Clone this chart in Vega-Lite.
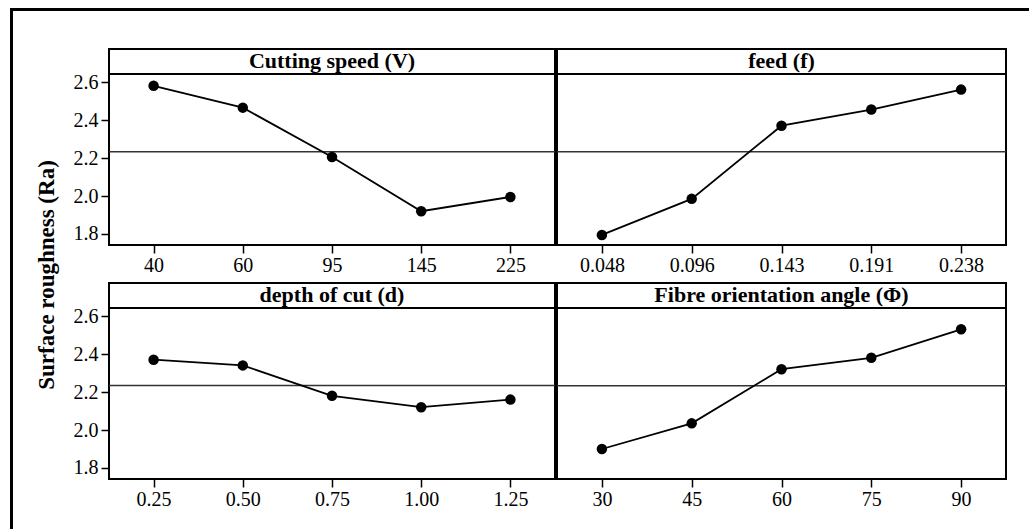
{
  "$schema": "https://vega.github.io/schema/vega-lite/v6.json",
  "padding": {"left": 10, "top": 8, "right": 0, "bottom": 0},
  "background": "white",
  "datasets": {
    "none": [],
    "main": [
      {"factor": "Cutting speed (V)", "level": "40", "ra": 2.58},
      {"factor": "Cutting speed (V)", "level": "60", "ra": 2.465},
      {"factor": "Cutting speed (V)", "level": "95", "ra": 2.205},
      {"factor": "Cutting speed (V)", "level": "145", "ra": 1.92},
      {"factor": "Cutting speed (V)", "level": "225", "ra": 1.995},
      {"factor": "feed (f)", "level": "0.048", "ra": 1.795},
      {"factor": "feed (f)", "level": "0.096", "ra": 1.985},
      {"factor": "feed (f)", "level": "0.143", "ra": 2.37},
      {"factor": "feed (f)", "level": "0.191", "ra": 2.455},
      {"factor": "feed (f)", "level": "0.238", "ra": 2.56},
      {"factor": "depth of cut (d)", "level": "0.25", "ra": 2.37},
      {"factor": "depth of cut (d)", "level": "0.50", "ra": 2.34},
      {"factor": "depth of cut (d)", "level": "0.75", "ra": 2.18},
      {"factor": "depth of cut (d)", "level": "1.00", "ra": 2.12},
      {"factor": "depth of cut (d)", "level": "1.25", "ra": 2.16},
      {"factor": "Fibre orientation angle (Φ)", "level": "30", "ra": 1.9},
      {"factor": "Fibre orientation angle (Φ)", "level": "45", "ra": 2.035},
      {"factor": "Fibre orientation angle (Φ)", "level": "60", "ra": 2.32},
      {"factor": "Fibre orientation angle (Φ)", "level": "75", "ra": 2.38},
      {"factor": "Fibre orientation angle (Φ)", "level": "90", "ra": 2.53}
    ]
  },
  "spacing": 0,
  "vconcat": [
    {
      "width": 1018, "height": 1,
      "data": {"name": "none"},
      "mark": "point",
      "encoding": {},
      "view": {"stroke": "black", "strokeWidth": 2}
    },
    {
      "spacing": 22,
      "hconcat": [
        {
          "width": 1, "height": 516,
          "data": {"name": "none"},
          "mark": "point",
          "encoding": {},
          "view": {"stroke": "black", "strokeWidth": 2}
        },
        {
          "spacing": 0,
          "vconcat": [
            {
              "width": 1, "height": 36,
              "data": {"name": "none"},
              "mark": "point",
              "encoding": {},
              "view": {"stroke": null}
            },
            {
              "title": {"text": "Surface roughness (Ra)", "orient": "left", "anchor": "middle", "fontSize": 23, "fontWeight": "bold", "font": "Liberation Serif", "color": "black", "offset": 13, "dx": 4},
              "spacing": 6,
              "vconcat": [
                {
                  "spacing": -5,
                  "hconcat": [
                    {
                      "width": 446, "height": 196,
                      "data": {"name": "main"},
                      "transform": [{"filter": "datum.factor === 'Cutting speed (V)'"}],
                      "layer": [
                        {"mark": {"type": "rule", "color": "#333333", "strokeWidth": 1.5},
                         "encoding": {"y": {"aggregate": "mean", "field": "ra", "type": "quantitative", "scale": {"domain": [1.7421, 2.7737], "nice": false, "zero": false}, "axis": {"title": null, "values": [1.8, 2.0, 2.2, 2.4, 2.6], "format": ".1f"}}}},
                        {"mark": {"type": "rule", "color": "black", "strokeWidth": 2},
                         "encoding": {"y": {"datum": 2.642, "type": "quantitative", "axis": {"title": null, "values": [1.8, 2.0, 2.2, 2.4, 2.6], "format": ".1f"}}}},
                        {"mark": {"type": "line", "color": "black", "strokeWidth": 1.8},
                         "encoding": {
                           "x": {"field": "level", "type": "nominal", "scale": {"type": "point", "domain": ["40", "60", "95", "145", "225"], "padding": 0.5}, "axis": {"title": null, "labelAngle": 0}},
                           "y": {"field": "ra", "type": "quantitative", "axis": {"title": null, "values": [1.8, 2.0, 2.2, 2.4, 2.6], "format": ".1f"}},
                           "order": {"value": null}}},
                        {"mark": {"type": "circle", "color": "black", "size": 110, "opacity": 1},
                         "encoding": {
                           "x": {"field": "level", "type": "nominal", "axis": {"title": null, "labelAngle": 0}},
                           "y": {"field": "ra", "type": "quantitative", "axis": {"title": null, "values": [1.8, 2.0, 2.2, 2.4, 2.6], "format": ".1f"}}}},
                        {"transform": [{"aggregate": [{"op": "count", "as": "n"}], "groupby": ["factor"]}],
                         "mark": {"type": "text", "fontSize": 22, "fontWeight": "bold", "font": "Liberation Serif", "baseline": "middle", "align": "center", "color": "black"},
                         "encoding": {
                           "x": {"datum": "95", "type": "nominal", "axis": {"title": null, "labelAngle": 0}},
                           "y": {"datum": 2.708, "type": "quantitative", "axis": {"title": null, "values": [1.8, 2.0, 2.2, 2.4, 2.6], "format": ".1f"}},
                           "text": {"field": "factor"}}}
                      ]
                    },
                    {
                      "width": 449, "height": 196,
                      "data": {"name": "main"},
                      "transform": [{"filter": "datum.factor === 'feed (f)'"}],
                      "layer": [
                        {"mark": {"type": "rule", "color": "#333333", "strokeWidth": 1.5},
                         "encoding": {"y": {"aggregate": "mean", "field": "ra", "type": "quantitative", "scale": {"domain": [1.7421, 2.7737], "nice": false, "zero": false}, "axis": null}}},
                        {"mark": {"type": "rule", "color": "black", "strokeWidth": 2},
                         "encoding": {"y": {"datum": 2.642, "type": "quantitative", "axis": null}}},
                        {"mark": {"type": "line", "color": "black", "strokeWidth": 1.8},
                         "encoding": {
                           "x": {"field": "level", "type": "nominal", "scale": {"type": "point", "domain": ["0.048", "0.096", "0.143", "0.191", "0.238"], "padding": 0.5}, "axis": {"title": null, "labelAngle": 0}},
                           "y": {"field": "ra", "type": "quantitative", "axis": null},
                           "order": {"value": null}}},
                        {"mark": {"type": "circle", "color": "black", "size": 110, "opacity": 1},
                         "encoding": {
                           "x": {"field": "level", "type": "nominal", "axis": {"title": null, "labelAngle": 0}},
                           "y": {"field": "ra", "type": "quantitative", "axis": null}}},
                        {"transform": [{"aggregate": [{"op": "count", "as": "n"}], "groupby": ["factor"]}],
                         "mark": {"type": "text", "fontSize": 22, "fontWeight": "bold", "font": "Liberation Serif", "baseline": "middle", "align": "center", "color": "black"},
                         "encoding": {
                           "x": {"datum": "0.143", "type": "nominal", "axis": {"title": null, "labelAngle": 0}},
                           "y": {"datum": 2.708, "type": "quantitative", "axis": null},
                           "text": {"field": "factor"}}}
                      ]
                    }
                  ]
                },
                {
                  "spacing": -5,
                  "hconcat": [
                    {
                      "width": 446, "height": 196,
                      "data": {"name": "main"},
                      "transform": [{"filter": "datum.factor === 'depth of cut (d)'"}],
                      "layer": [
                        {"mark": {"type": "rule", "color": "#333333", "strokeWidth": 1.5},
                         "encoding": {"y": {"aggregate": "mean", "field": "ra", "type": "quantitative", "scale": {"domain": [1.7421, 2.7737], "nice": false, "zero": false}, "axis": {"title": null, "values": [1.8, 2.0, 2.2, 2.4, 2.6], "format": ".1f"}}}},
                        {"mark": {"type": "rule", "color": "black", "strokeWidth": 2},
                         "encoding": {"y": {"datum": 2.642, "type": "quantitative", "axis": {"title": null, "values": [1.8, 2.0, 2.2, 2.4, 2.6], "format": ".1f"}}}},
                        {"mark": {"type": "line", "color": "black", "strokeWidth": 1.8},
                         "encoding": {
                           "x": {"field": "level", "type": "nominal", "scale": {"type": "point", "domain": ["0.25", "0.50", "0.75", "1.00", "1.25"], "padding": 0.5}, "axis": {"title": null, "labelAngle": 0}},
                           "y": {"field": "ra", "type": "quantitative", "axis": {"title": null, "values": [1.8, 2.0, 2.2, 2.4, 2.6], "format": ".1f"}},
                           "order": {"value": null}}},
                        {"mark": {"type": "circle", "color": "black", "size": 110, "opacity": 1},
                         "encoding": {
                           "x": {"field": "level", "type": "nominal", "axis": {"title": null, "labelAngle": 0}},
                           "y": {"field": "ra", "type": "quantitative", "axis": {"title": null, "values": [1.8, 2.0, 2.2, 2.4, 2.6], "format": ".1f"}}}},
                        {"transform": [{"aggregate": [{"op": "count", "as": "n"}], "groupby": ["factor"]}],
                         "mark": {"type": "text", "fontSize": 22, "fontWeight": "bold", "font": "Liberation Serif", "baseline": "middle", "align": "center", "color": "black"},
                         "encoding": {
                           "x": {"datum": "0.75", "type": "nominal", "axis": {"title": null, "labelAngle": 0}},
                           "y": {"datum": 2.708, "type": "quantitative", "axis": {"title": null, "values": [1.8, 2.0, 2.2, 2.4, 2.6], "format": ".1f"}},
                           "text": {"field": "factor"}}}
                      ]
                    },
                    {
                      "width": 449, "height": 196,
                      "data": {"name": "main"},
                      "transform": [{"filter": "datum.factor === 'Fibre orientation angle (Φ)'"}],
                      "layer": [
                        {"mark": {"type": "rule", "color": "#333333", "strokeWidth": 1.5},
                         "encoding": {"y": {"aggregate": "mean", "field": "ra", "type": "quantitative", "scale": {"domain": [1.7421, 2.7737], "nice": false, "zero": false}, "axis": null}}},
                        {"mark": {"type": "rule", "color": "black", "strokeWidth": 2},
                         "encoding": {"y": {"datum": 2.642, "type": "quantitative", "axis": null}}},
                        {"mark": {"type": "line", "color": "black", "strokeWidth": 1.8},
                         "encoding": {
                           "x": {"field": "level", "type": "nominal", "scale": {"type": "point", "domain": ["30", "45", "60", "75", "90"], "padding": 0.5}, "axis": {"title": null, "labelAngle": 0}},
                           "y": {"field": "ra", "type": "quantitative", "axis": null},
                           "order": {"value": null}}},
                        {"mark": {"type": "circle", "color": "black", "size": 110, "opacity": 1},
                         "encoding": {
                           "x": {"field": "level", "type": "nominal", "axis": {"title": null, "labelAngle": 0}},
                           "y": {"field": "ra", "type": "quantitative", "axis": null}}},
                        {"transform": [{"aggregate": [{"op": "count", "as": "n"}], "groupby": ["factor"]}],
                         "mark": {"type": "text", "fontSize": 22, "fontWeight": "bold", "font": "Liberation Serif", "baseline": "middle", "align": "center", "color": "black"},
                         "encoding": {
                           "x": {"datum": "60", "type": "nominal", "axis": {"title": null, "labelAngle": 0}},
                           "y": {"datum": 2.708, "type": "quantitative", "axis": null},
                           "text": {"field": "factor"}}}
                      ]
                    }
                  ]
                }
              ]
            }
          ]
        }
      ]
    }
  ],
  "config": {
    "font": "Liberation Serif",
    "view": {"stroke": "black", "strokeWidth": 2},
    "axis": {"labelFont": "Liberation Serif", "labelFontSize": 20, "labelColor": "black", "tickColor": "black", "tickWidth": 1.5, "tickSize": 8, "domain": false, "grid": false, "labelPadding": 2},
    "axisY": {"labelPadding": 3}
  }
}
